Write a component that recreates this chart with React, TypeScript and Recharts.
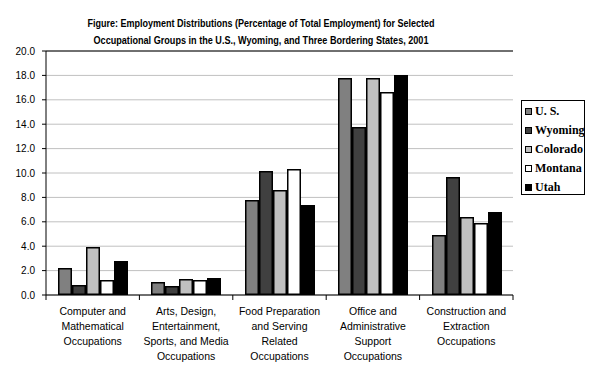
import React from 'react';
import { BarChart, Bar, XAxis, YAxis, CartesianGrid, Legend, ReferenceLine } from 'recharts';

const categories = [
  'Computer and\nMathematical\nOccupations',
  'Arts, Design,\nEntertainment,\nSports, and Media\nOccupations',
  'Food Preparation\nand Serving\nRelated\nOccupations',
  'Office and\nAdministrative\nSupport\nOccupations',
  'Construction and\nExtraction\nOccupations',
];
const us = [2.2, 1.1, 7.8, 17.8, 4.9];
const wyoming = [0.8, 0.7, 10.2, 13.8, 9.7];
const colorado = [3.9, 1.3, 8.6, 17.8, 6.4];
const montana = [1.2, 1.2, 10.3, 16.6, 5.9];
const utah = [2.8, 1.4, 7.4, 18.0, 6.8];
const yTicks = [0, 2, 4, 6, 8, 10, 12, 14, 16, 18, 20];
const titleLines = [
  'Figure: Employment Distributions (Percentage of Total Employment) for Selected',
  'Occupational Groups in the U.S., Wyoming, and Three Bordering States, 2001',
];

const series = [
  { key: 'us', name: 'U. S.', fill: '#808080' },
  { key: 'wyoming', name: 'Wyoming', fill: '#404040' },
  { key: 'colorado', name: 'Colorado', fill: '#c0c0c0' },
  { key: 'montana', name: 'Montana', fill: '#ffffff' },
  { key: 'utah', name: 'Utah', fill: '#000000' },
];

const data = categories.map((c, i) => ({
  name: c,
  us: us[i],
  wyoming: wyoming[i],
  colorado: colorado[i],
  montana: montana[i],
  utah: utah[i],
}));

const W = 595;
const H = 377;
const M = { top: 51, right: 82, bottom: 0, left: 6 };
const Y_W = 40;
const plotW = W - M.left - M.right - Y_W;
const band = plotW / categories.length;

const XTick = (props: any) => {
  const { x, y, payload, index } = props;
  const lines = String(payload.value).split('\n');
  return (
    <g>
      <line x1={x - band / 2} x2={x - band / 2} y1={y - 8} y2={y - 3} stroke="#000" />
      {index === categories.length - 1 && (
        <line x1={x + band / 2} x2={x + band / 2} y1={y - 8} y2={y - 3} stroke="#000" />
      )}
      {lines.map((l, i) => (
        <text key={i} x={x} y={y + 12 + i * 15} textAnchor="middle" fontSize={10.5}
          fontFamily="'Liberation Sans', Arial, sans-serif" fill="#000">{l}</text>
      ))}
    </g>
  );
};

const BarShape = (props: any) => {
  const { x, y, width, height, fill } = props;
  if (!height || height <= 0) return null;
  return (
    <rect x={Math.round(x) + 0.75} y={Math.round(y) + 0.75} width={Math.round(width) - 1.5}
      height={Math.round(height) - 1.5} fill={fill} stroke="#000" strokeWidth={1.5} />
  );
};

const LegendBox = () => (
  <div style={{
    position: 'absolute', left: 521, top: 100, width: 62, height: 93,
    border: '1px solid #000', background: '#fff', boxSizing: 'content-box',
  }}>
    {series.map((s, i) => (
      <div key={s.key} style={{ position: 'absolute', left: 3, top: 4 + i * 19, display: 'flex', alignItems: 'center', whiteSpace: 'nowrap' }}>
        <span style={{ display: 'inline-block', width: 5, height: 5, background: s.fill, border: s.key === 'montana' ? '1.5px solid #000' : '1px solid #000', marginRight: 3 }} />
        <span style={{ fontFamily: "'Liberation Serif', serif", fontWeight: 'bold', fontSize: 12, lineHeight: '13px', color: '#000' }}>{s.name}</span>
      </div>
    ))}
  </div>
);

export default function App() {
  return (
    <div style={{ position: 'absolute', left: 0, top: 0, width: W, height: H, background: '#fff' }}>
      <svg width={W} height={50} style={{ position: 'absolute', left: 0, top: 0 }}>
        {titleLines.map((t, i) => (
          <text key={i} x={261} y={27 + i * 17} textAnchor="middle" fontSize={11} fontWeight="bold"
            fontFamily="'Liberation Sans', Arial, sans-serif"
            textLength={i === 0 ? 347 : 335} lengthAdjust="spacingAndGlyphs" fill="#000">{t}</text>
        ))}
      </svg>
      <div style={{ position: 'absolute', left: 0, top: 0 }}>
        <BarChart width={W} height={H} data={data} margin={M} barSize={14} barGap={0.0001}>
          <CartesianGrid vertical={false} stroke="#c0c0c0" strokeWidth={1} />
          <ReferenceLine y={20} stroke="#000" ifOverflow="extendDomain" />
          <XAxis dataKey="name" interval={0} tickLine={false} axisLine={{ stroke: '#000' }}
            height={82} tick={<XTick />} />
          <YAxis domain={[0, 20]} ticks={yTicks} width={Y_W} tickSize={4} tickMargin={7}
            axisLine={{ stroke: '#000' }} tickLine={{ stroke: '#000' }}
            tickFormatter={(v: number) => v.toFixed(1)}
            tick={{ fontSize: 10, fill: '#000', fontFamily: "'Liberation Sans', Arial, sans-serif" }} />
          <YAxis yAxisId="r" orientation="right" width={0} tick={false} tickLine={false}
            axisLine={{ stroke: '#000' }} domain={[0, 20]} />
          {series.map((s) => (
            <Bar key={s.key} dataKey={s.key} name={s.name} fill={s.fill} stroke="#000" strokeWidth={1}
              shape={<BarShape />} isAnimationActive={false} />
          ))}
          <Legend content={() => null} />
        </BarChart>
      </div>
      <LegendBox />
    </div>
  );
}
